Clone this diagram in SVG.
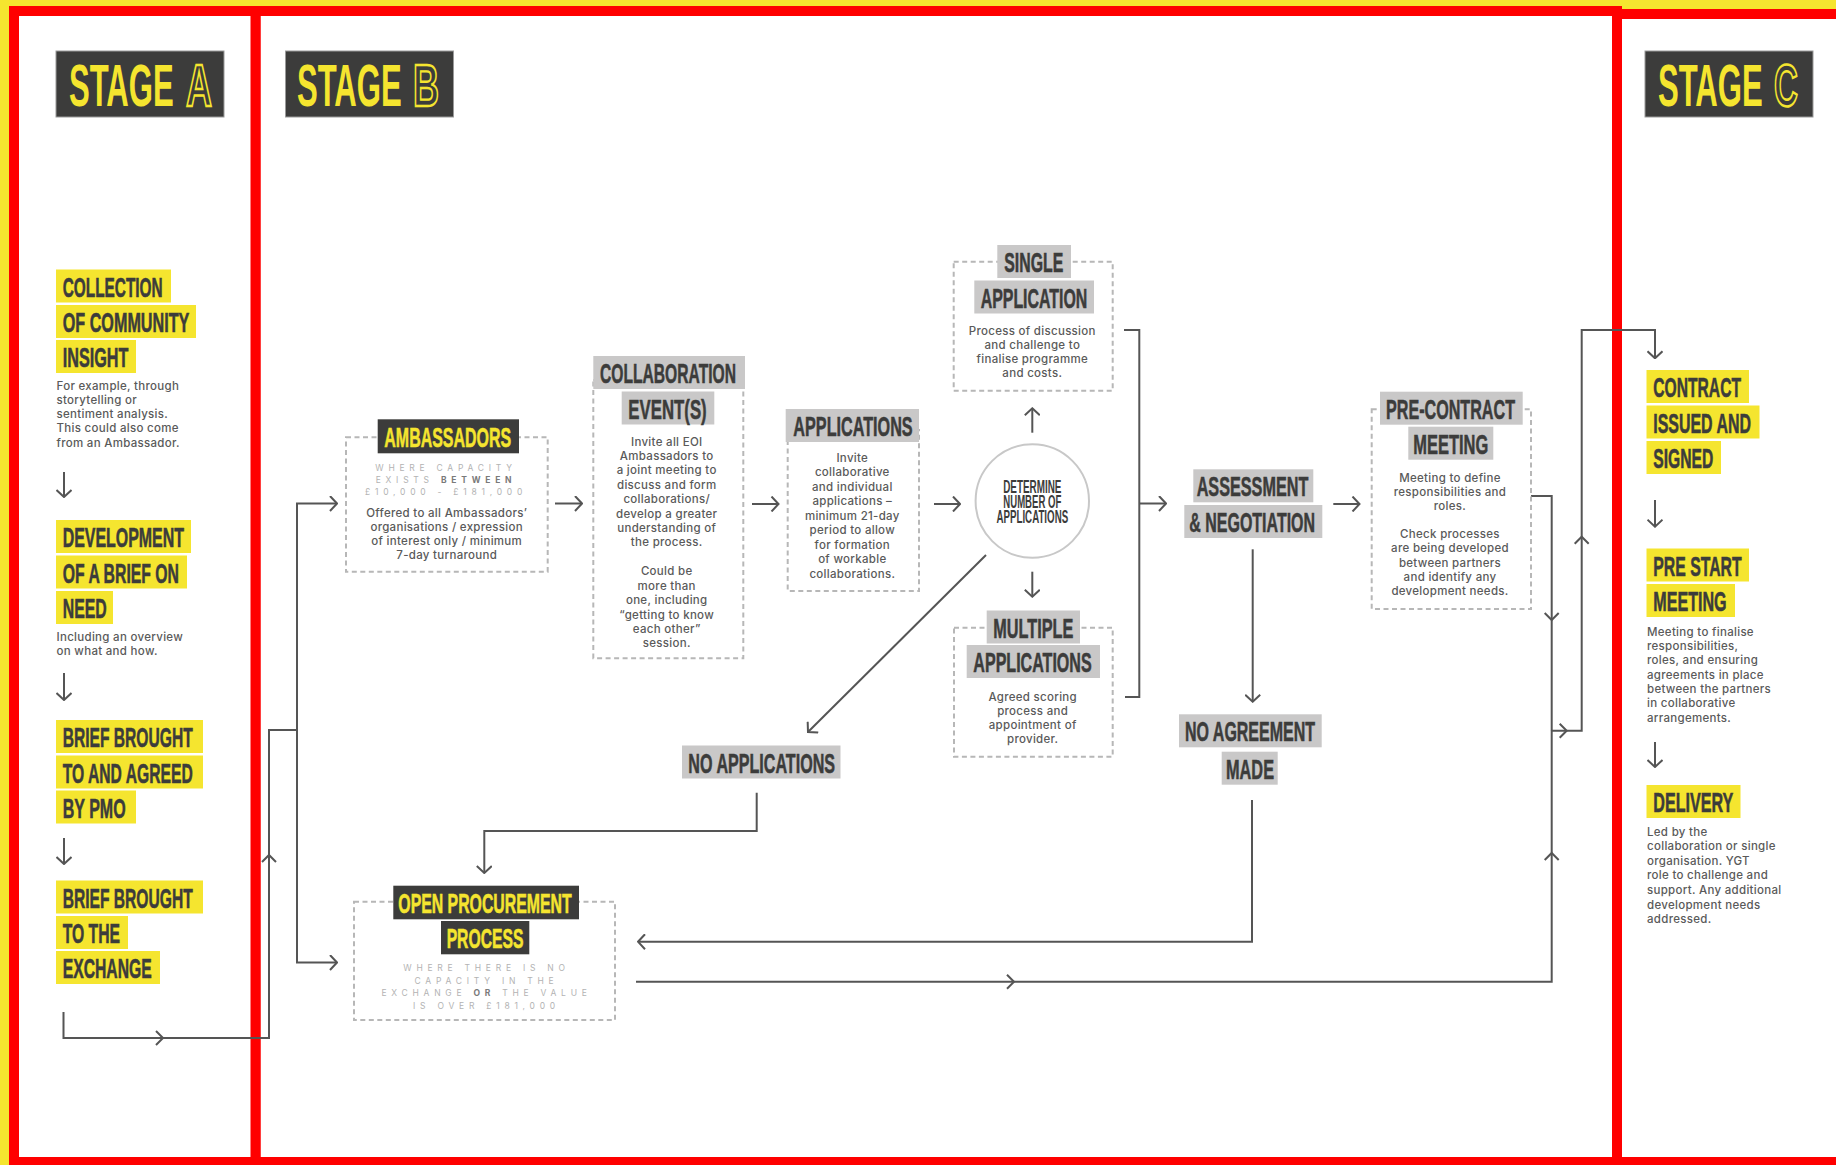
<svg xmlns="http://www.w3.org/2000/svg" width="1836" height="1165" viewBox="0 0 1836 1165">
<defs>
<style>
.lb{font-family:"Liberation Sans",Arial,sans-serif;font-weight:bold;font-size:14px;fill:#3c3c3b;stroke:#3c3c3b;stroke-width:0.45;vector-effect:non-scaling-stroke}
.lbc{text-anchor:middle}
.ly{fill:#f5e52f;stroke:#f5e52f}
.yb{fill:#f5e52f}
.gb{fill:#c9c8c8}
.db{fill:#3c3c3b}
.bd{font-family:Inter,"Open Sans","Liberation Sans",sans-serif;font-size:11.5px;font-weight:500;letter-spacing:0.3px;fill:#5a5a5a}
.bdc{text-anchor:middle}
.cap{font-family:Inter,"Liberation Sans",sans-serif;font-size:8.5px;letter-spacing:4.75px;fill:#b3b3b3;text-anchor:middle}
.capb{font-weight:bold;fill:#7a7a7a}
.dash{fill:none;stroke:#b7b7b7;stroke-width:2;stroke-dasharray:5 3.5}
.con{fill:none;stroke:#555;stroke-width:2}
.arr{fill:none;stroke:#555;stroke-width:2;marker-end:url(#ah)}
.chev{fill:none;stroke:#555;stroke-width:2}
.st{font-family:"Liberation Sans",Arial,sans-serif;font-weight:bold;font-size:30px;fill:#f5e52f}
.sto{fill:none;stroke:#f5e52f;stroke-width:2;vector-effect:non-scaling-stroke}
.stb{fill:#3c3c3b;stroke:#9a9a9a;stroke-width:1}
.frame{fill:#fff;stroke:#ff0000;stroke-width:10}
</style>
<marker id="ah" viewBox="0 0 16 16" refX="15" refY="8" markerWidth="16" markerHeight="16" markerUnits="userSpaceOnUse" orient="auto">
<path d="M8,0.5 L15,8 L8,15.5" fill="none" stroke="#555" stroke-width="2"/>
</marker>
</defs>

<rect x="0" y="0" width="1836" height="1165" fill="#f5e52f"/>
<g id="frames">
<rect class="frame" x="1617" y="14" width="225" height="1148"/>
<rect class="frame" x="255.5" y="11" width="1361.5" height="1151"/>
<rect class="frame" x="14" y="11" width="241.5" height="1151"/>
</g>

<g id="stage-a-header">
<rect class="stb" x="56" y="51" width="168" height="66"/>
<text class="st" transform="translate(69,106) scale(1.035,2)">STAGE</text>
<text class="st sto" transform="translate(186,106) scale(1.2,2)">A</text>
</g>
<g id="stage-b-header">
<rect class="stb" x="285.5" y="51" width="168" height="66"/>
<text class="st" transform="translate(297,106) scale(1.035,2)">STAGE</text>
<text class="st sto" transform="translate(413,106) scale(1.2,2)">B</text>
</g>
<g id="stage-c-header">
<rect class="stb" x="1645" y="51" width="168" height="66"/>
<text class="st" transform="translate(1658,106) scale(1.035,2)">STAGE</text>
<text class="st sto" transform="translate(1774,106) scale(1.1,2)">C</text>
</g>

<g id="connectors">
<path class="arr" d="M64,472 V497"/>
<path class="arr" d="M64,673 V700"/>
<path class="arr" d="M64,838 V864"/>
<path class="con" d="M63.5,1012 V1038 H269 V730 H297"/>
<path class="chev" d="M156,1031 L163,1038 L156,1045"/>
<path class="chev" d="M262,862 L269,855 L276,862"/>
<path class="arr" d="M297,731 V503.5 H337"/>
<path class="arr" d="M297,729 V962.5 H337"/>
<path class="arr" d="M555,503.5 H582"/>
<path class="arr" d="M752,504 H778.5"/>
<path class="arr" d="M934,504 H960"/>
<path class="arr" d="M1032.3,432.7 V408.3"/>
<path class="arr" d="M1032.3,571.7 V596.7"/>
<path class="arr" d="M986,555 L808,732"/>
<path class="con" d="M1124,330 H1139.3 V697 H1125"/>
<path class="arr" d="M1139.3,503.5 H1166"/>
<path class="arr" d="M1333.3,504 H1359.5"/>
<path class="arr" d="M1252.7,549.3 V701.7"/>
<path class="arr" d="M1252,800 V941.7 H638"/>
<path class="arr" d="M756.7,792.7 V831 H484.3 V873"/>
<path class="con" d="M636,981.7 H1551.7 V730.7"/>
<path class="chev" d="M1007,974.7 L1014,981.7 L1007,988.7"/>
<path class="chev" d="M1544.7,860 L1551.7,853 L1558.7,860"/>
<path class="con" d="M1531,496 H1551.7 V731"/>
<path class="chev" d="M1544.7,613 L1551.7,620 L1558.7,613"/>
<path class="arr" d="M1551.7,730.7 H1581.7 V330 H1655 V358.3"/>
<path class="chev" d="M1559.7,723.7 L1566.7,730.7 L1559.7,737.7"/>
<path class="chev" d="M1574.7,543.7 L1581.7,536.7 L1588.7,543.7"/>
<path class="arr" d="M1655,500 V526.7"/>
<path class="arr" d="M1655,742 V767"/>
</g>

<g id="collection">
<rect class="yb" x="56" y="269.5" width="115" height="33"/>
<rect class="yb" x="56" y="305" width="140" height="33"/>
<rect class="yb" x="56" y="340" width="80" height="33"/>
<text class="lb" transform="translate(62.7,296.5) scale(1,2)" textLength="100" lengthAdjust="spacingAndGlyphs">COLLECTION</text>
<text class="lb" transform="translate(62.7,332) scale(1,2)" textLength="126.7" lengthAdjust="spacingAndGlyphs">OF COMMUNITY</text>
<text class="lb" transform="translate(62.7,367) scale(1,2)" textLength="65.7" lengthAdjust="spacingAndGlyphs">INSIGHT</text>
<text class="bd" x="56.5" y="389.5">For example, through</text>
<text class="bd" x="56.5" y="403.8">storytelling or</text>
<text class="bd" x="56.5" y="418.1">sentiment analysis.</text>
<text class="bd" x="56.5" y="432.4">This could also come</text>
<text class="bd" x="56.5" y="446.7">from an Ambassador.</text>
</g>

<g id="development">
<rect class="yb" x="56" y="520" width="135" height="33"/>
<rect class="yb" x="56" y="555.5" width="131" height="33"/>
<rect class="yb" x="56" y="591" width="57" height="33"/>
<text class="lb" transform="translate(62.7,547) scale(1,2)" textLength="121.3" lengthAdjust="spacingAndGlyphs">DEVELOPMENT</text>
<text class="lb" transform="translate(62.7,582.5) scale(1,2)" textLength="116.3" lengthAdjust="spacingAndGlyphs">OF A BRIEF ON</text>
<text class="lb" transform="translate(62.7,618) scale(1,2)" textLength="44" lengthAdjust="spacingAndGlyphs">NEED</text>
<text class="bd" x="56.5" y="640.5">Including an overview</text>
<text class="bd" x="56.5" y="654.5">on what and how.</text>
</g>

<g id="brief-pmo">
<rect class="yb" x="56" y="720" width="147" height="33"/>
<rect class="yb" x="56" y="755.5" width="147" height="33"/>
<rect class="yb" x="56" y="790.5" width="80" height="33"/>
<text class="lb" transform="translate(62.7,747) scale(1,2)" textLength="130" lengthAdjust="spacingAndGlyphs">BRIEF BROUGHT</text>
<text class="lb" transform="translate(62.7,782.5) scale(1,2)" textLength="130" lengthAdjust="spacingAndGlyphs">TO AND AGREED</text>
<text class="lb" transform="translate(62.7,817.5) scale(1,2)" textLength="63" lengthAdjust="spacingAndGlyphs">BY PMO</text>
</g>

<g id="brief-exchange">
<rect class="yb" x="56" y="880.5" width="147" height="33"/>
<rect class="yb" x="56" y="916" width="72" height="33"/>
<rect class="yb" x="56" y="951" width="104" height="33"/>
<text class="lb" transform="translate(62.7,907.5) scale(1,2)" textLength="130" lengthAdjust="spacingAndGlyphs">BRIEF BROUGHT</text>
<text class="lb" transform="translate(62.7,943) scale(1,2)" textLength="57.3" lengthAdjust="spacingAndGlyphs">TO THE</text>
<text class="lb" transform="translate(62.7,978) scale(1,2)" textLength="89" lengthAdjust="spacingAndGlyphs">EXCHANGE</text>
</g>

<g id="ambassadors">
<rect class="dash" x="346" y="437.3" width="201.7" height="134.4"/>
<rect class="db" x="377.7" y="419.3" width="141.3" height="34"/>
<text class="lb lbc ly" transform="translate(447.7,446.5) scale(1,2)" textLength="126.7" lengthAdjust="spacingAndGlyphs">AMBASSADORS</text>
<text class="cap" x="446" y="470.5">WHERE CAPACITY</text>
<text class="cap" x="446" y="482.8">EXISTS <tspan class="capb">BETWEEN</tspan></text>
<text class="cap" x="446" y="495">£10,000 - £181,000</text>
<text class="bd bdc" x="446.7" y="516.5">Offered to all Ambassadors’</text>
<text class="bd bdc" x="446.7" y="530.6">organisations / expression</text>
<text class="bd bdc" x="446.7" y="544.8">of interest only / minimum</text>
<text class="bd bdc" x="446.7" y="559">7-day turnaround</text>
</g>

<g id="collaboration">
<rect class="dash" x="593.3" y="380" width="150" height="278.3"/>
<rect class="gb" x="593.3" y="356" width="151.7" height="33"/>
<rect class="gb" x="621.7" y="391.5" width="92.6" height="33"/>
<text class="lb lbc" transform="translate(668,383) scale(1,2)" textLength="136" lengthAdjust="spacingAndGlyphs">COLLABORATION</text>
<text class="lb lbc" transform="translate(667.5,418.5) scale(1,2)" textLength="78.3" lengthAdjust="spacingAndGlyphs">EVENT(S)</text>
<text class="bd bdc" x="666.7" y="445.5">Invite all EOI</text>
<text class="bd bdc" x="666.7" y="459.9">Ambassadors to</text>
<text class="bd bdc" x="666.7" y="474.3">a joint meeting to</text>
<text class="bd bdc" x="666.7" y="488.7">discuss and form</text>
<text class="bd bdc" x="666.7" y="503.1">collaborations/</text>
<text class="bd bdc" x="666.7" y="517.5">develop a greater</text>
<text class="bd bdc" x="666.7" y="531.9">understanding of</text>
<text class="bd bdc" x="666.7" y="546.3">the process.</text>
<text class="bd bdc" x="666.7" y="574.5">Could be</text>
<text class="bd bdc" x="666.7" y="589.5">more than</text>
<text class="bd bdc" x="666.7" y="604">one, including</text>
<text class="bd bdc" x="666.7" y="618.5">“getting to know</text>
<text class="bd bdc" x="666.7" y="633">each other”</text>
<text class="bd bdc" x="666.7" y="647.3">session.</text>
</g>

<g id="applications">
<rect class="dash" x="787.7" y="430" width="131.3" height="161"/>
<rect class="gb" x="785.7" y="409" width="133.3" height="33"/>
<text class="lb lbc" transform="translate(853,436) scale(1,2)" textLength="119.3" lengthAdjust="spacingAndGlyphs">APPLICATIONS</text>
<text class="bd bdc" x="852.3" y="461.5">Invite</text>
<text class="bd bdc" x="852.3" y="476">collaborative</text>
<text class="bd bdc" x="852.3" y="490.6">and individual</text>
<text class="bd bdc" x="852.3" y="505.1">applications –</text>
<text class="bd bdc" x="852.3" y="519.7">minimum 21-day</text>
<text class="bd bdc" x="852.3" y="534.2">period to allow</text>
<text class="bd bdc" x="852.3" y="548.7">for formation</text>
<text class="bd bdc" x="852.3" y="563.3">of workable</text>
<text class="bd bdc" x="852.3" y="577.8">collaborations.</text>
</g>

<g id="determine">
<circle cx="1032.3" cy="501" r="56.7" fill="#fff" stroke="#c8c8c8" stroke-width="2"/>
<text class="lb lbc" style="font-size:9px;stroke:none" transform="translate(1032.3,0) scale(1,2)"><tspan x="0" y="246.5" textLength="58.3" lengthAdjust="spacingAndGlyphs">DETERMINE</tspan><tspan x="0" y="254" textLength="58" lengthAdjust="spacingAndGlyphs">NUMBER OF</tspan><tspan x="0" y="261.5" textLength="71.7" lengthAdjust="spacingAndGlyphs">APPLICATIONS</tspan></text>
</g>

<g id="single-application">
<rect class="dash" x="953.7" y="261.7" width="159" height="129"/>
<rect class="gb" x="997.3" y="245" width="73.7" height="33"/>
<rect class="gb" x="974.3" y="280.5" width="119.7" height="33"/>
<text class="lb lbc" transform="translate(1033.8,272) scale(1,2)" textLength="59" lengthAdjust="spacingAndGlyphs">SINGLE</text>
<text class="lb lbc" transform="translate(1034,307.5) scale(1,2)" textLength="106.7" lengthAdjust="spacingAndGlyphs">APPLICATION</text>
<text class="bd bdc" x="1032.3" y="334.5">Process of discussion</text>
<text class="bd bdc" x="1032.3" y="348.7">and challenge to</text>
<text class="bd bdc" x="1032.3" y="362.9">finalise programme</text>
<text class="bd bdc" x="1032.3" y="377.1">and costs.</text>
</g>

<g id="multiple-applications">
<rect class="dash" x="954" y="627.7" width="158.7" height="129"/>
<rect class="gb" x="986.7" y="610.5" width="93.3" height="33"/>
<rect class="gb" x="966.7" y="645" width="133.3" height="33"/>
<text class="lb lbc" transform="translate(1033.3,637.5) scale(1,2)" textLength="80" lengthAdjust="spacingAndGlyphs">MULTIPLE</text>
<text class="lb lbc" transform="translate(1032.5,672) scale(1,2)" textLength="118.3" lengthAdjust="spacingAndGlyphs">APPLICATIONS</text>
<text class="bd bdc" x="1032.7" y="700.5">Agreed scoring</text>
<text class="bd bdc" x="1032.7" y="714.6">process and</text>
<text class="bd bdc" x="1032.7" y="728.7">appointment of</text>
<text class="bd bdc" x="1032.7" y="742.8">provider.</text>
</g>

<g id="no-applications">
<rect class="gb" x="682" y="745.5" width="158.5" height="33"/>
<text class="lb lbc" transform="translate(761.7,772.5) scale(1,2)" textLength="146.7" lengthAdjust="spacingAndGlyphs">NO APPLICATIONS</text>
</g>

<g id="assessment">
<rect class="gb" x="1193.3" y="469.3" width="120" height="33"/>
<rect class="gb" x="1184.3" y="505" width="138" height="33"/>
<text class="lb lbc" transform="translate(1252.5,496.3) scale(1,2)" textLength="111.7" lengthAdjust="spacingAndGlyphs">ASSESSMENT</text>
<text class="lb lbc" transform="translate(1252.2,532) scale(1,2)" textLength="125.7" lengthAdjust="spacingAndGlyphs">&amp; NEGOTIATION</text>
</g>

<g id="pre-contract">
<rect class="dash" x="1371.7" y="409.3" width="159.3" height="199.7"/>
<rect class="gb" x="1380" y="391.7" width="142.7" height="33"/>
<rect class="gb" x="1408.3" y="426.7" width="85" height="33"/>
<text class="lb lbc" transform="translate(1450.5,418.7) scale(1,2)" textLength="129" lengthAdjust="spacingAndGlyphs">PRE-CONTRACT</text>
<text class="lb lbc" transform="translate(1450.8,453.7) scale(1,2)" textLength="75" lengthAdjust="spacingAndGlyphs">MEETING</text>
<text class="bd bdc" x="1450" y="481.5">Meeting to define</text>
<text class="bd bdc" x="1450" y="495.7">responsibilities and</text>
<text class="bd bdc" x="1450" y="510">roles.</text>
<text class="bd bdc" x="1450" y="538">Check processes</text>
<text class="bd bdc" x="1450" y="552.3">are being developed</text>
<text class="bd bdc" x="1450" y="566.6">between partners</text>
<text class="bd bdc" x="1450" y="580.9">and identify any</text>
<text class="bd bdc" x="1450" y="595.2">development needs.</text>
</g>

<g id="no-agreement">
<rect class="gb" x="1179" y="714.3" width="142.7" height="33"/>
<rect class="gb" x="1221.7" y="751.7" width="56" height="33"/>
<text class="lb lbc" transform="translate(1250,741.3) scale(1,2)" textLength="130" lengthAdjust="spacingAndGlyphs">NO AGREEMENT</text>
<text class="lb lbc" transform="translate(1250,778.7) scale(1,2)" textLength="48" lengthAdjust="spacingAndGlyphs">MADE</text>
</g>

<g id="open-procurement">
<rect class="dash" x="354" y="901.7" width="261" height="118.3"/>
<rect class="db" x="393.3" y="885.7" width="185.7" height="33.6"/>
<rect class="db" x="441" y="921" width="88.3" height="33.3"/>
<text class="lb lbc ly" transform="translate(485,912.7) scale(1,2)" textLength="173.3" lengthAdjust="spacingAndGlyphs">OPEN PROCUREMENT</text>
<text class="lb lbc ly" transform="translate(485,948) scale(1,2)" textLength="76.7" lengthAdjust="spacingAndGlyphs">PROCESS</text>
<text class="cap" x="486.5" y="971.3">WHERE THERE IS NO</text>
<text class="cap" x="486.5" y="983.7">CAPACITY IN THE</text>
<text class="cap" x="486.5" y="996.3">EXCHANGE <tspan class="capb">OR</tspan> THE VALUE</text>
<text class="cap" x="486.5" y="1008.7">IS OVER £181,000</text>
</g>

<g id="contract">
<rect class="yb" x="1646.5" y="370" width="102.5" height="33"/>
<rect class="yb" x="1646.5" y="405.5" width="113" height="33"/>
<rect class="yb" x="1646.5" y="441" width="74.5" height="33"/>
<text class="lb" transform="translate(1653.3,397) scale(1,2)" textLength="87.7" lengthAdjust="spacingAndGlyphs">CONTRACT</text>
<text class="lb" transform="translate(1653.3,432.5) scale(1,2)" textLength="97.7" lengthAdjust="spacingAndGlyphs">ISSUED AND</text>
<text class="lb" transform="translate(1653.3,468) scale(1,2)" textLength="60" lengthAdjust="spacingAndGlyphs">SIGNED</text>
</g>

<g id="pre-start">
<rect class="yb" x="1646.5" y="548.5" width="102.5" height="33"/>
<rect class="yb" x="1646.5" y="584" width="88.5" height="33"/>
<text class="lb" transform="translate(1653.3,575.5) scale(1,2)" textLength="88.3" lengthAdjust="spacingAndGlyphs">PRE START</text>
<text class="lb" transform="translate(1653.3,611) scale(1,2)" textLength="73.3" lengthAdjust="spacingAndGlyphs">MEETING</text>
<text class="bd" x="1647" y="635.5">Meeting to finalise</text>
<text class="bd" x="1647" y="649.8">responsibilities,</text>
<text class="bd" x="1647" y="664.2">roles, and ensuring</text>
<text class="bd" x="1647" y="678.5">agreements in place</text>
<text class="bd" x="1647" y="692.8">between the partners</text>
<text class="bd" x="1647" y="707.2">in collaborative</text>
<text class="bd" x="1647" y="721.5">arrangements.</text>
</g>

<g id="delivery">
<rect class="yb" x="1646.5" y="785" width="94" height="33"/>
<text class="lb" transform="translate(1653.3,812) scale(1,2)" textLength="80" lengthAdjust="spacingAndGlyphs">DELIVERY</text>
<text class="bd" x="1647" y="835.5">Led by the</text>
<text class="bd" x="1647" y="850.1">collaboration or single</text>
<text class="bd" x="1647" y="864.7">organisation. YGT</text>
<text class="bd" x="1647" y="879.3">role to challenge and</text>
<text class="bd" x="1647" y="893.9">support. Any additional</text>
<text class="bd" x="1647" y="908.5">development needs</text>
<text class="bd" x="1647" y="923.1">addressed.</text>
</g>
</svg>
